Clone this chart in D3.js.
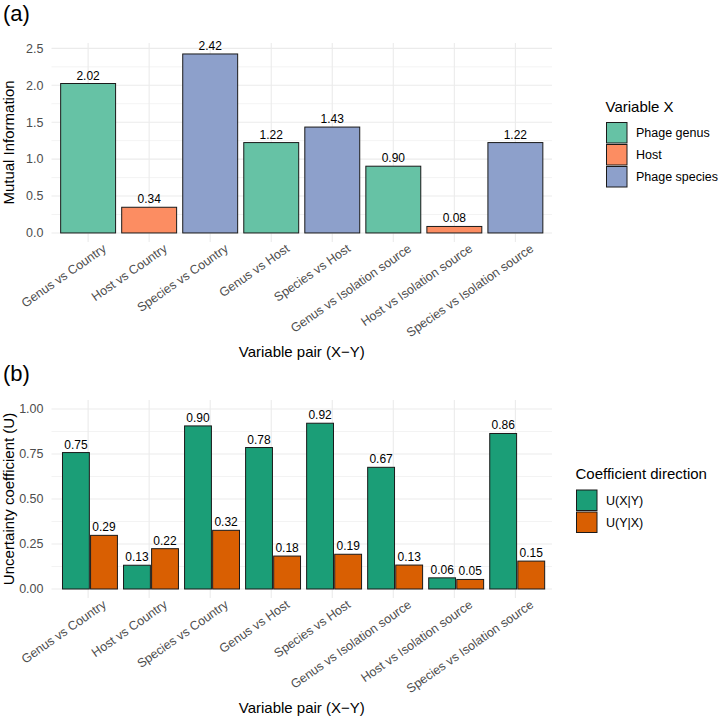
<!DOCTYPE html>
<html>
<head>
<meta charset="utf-8">
<script src="https://cdn.jsdelivr.net/npm/d3@7"></script>
<style>
  html, body { margin: 0; padding: 0; background: #fff; }
  svg { display: block; font-family: "Liberation Sans", Arial, Helvetica, sans-serif; }
</style>
</head>
<body>
<svg id="chart" width="721" height="716"></svg>
<script>
// ---------------- data ----------------
const pairs = ["Genus vs Country", "Host vs Country", "Species vs Country", "Genus vs Host",
               "Species vs Host", "Genus vs Isolation source", "Host vs Isolation source", "Species vs Isolation source"];
const miValues = [2.024, 0.348, 2.424, 1.224, 1.434, 0.904, 0.088, 1.224];
const miVariableX = ["Phage genus", "Host", "Phage species", "Phage genus", "Phage species", "Phage genus", "Host", "Phage species"];
const variableXLevels = ["Phage genus", "Host", "Phage species"];
const variableXColors = ["#66C2A5", "#FC8D62", "#8DA0CB"];
const uXgivenY = [0.758, 0.132, 0.906, 0.786, 0.921, 0.676, 0.062, 0.864];
const uYgivenX = [0.298, 0.224, 0.326, 0.183, 0.193, 0.133, 0.053, 0.155];
const directionLevels = ["U(X|Y)", "U(Y|X)"];
const directionColors = ["#1B9E77", "#D95F02"];
const miTicks = [0, 0.5, 1.0, 1.5, 2.0, 2.5];
const miMinor = [0.25, 0.75, 1.25, 1.75, 2.25];
const uTicks = [0, 0.25, 0.5, 0.75, 1.0];
const uMinor = [0.125, 0.375, 0.625, 0.875];

// ---------------- layout ----------------
const svg = d3.select("#chart");
const panelL = 51.5, panelR = 552;
const pA = { top: 43, bottom: 242 };
const pB = { top: 400, bottom: 598 };
const gridCol = "#EBEBEB";
const tickCol = "#4D4D4D";
const truncFmt = v => (Math.floor(v * 100 + 1e-9) / 100).toFixed(2);

const x = d3.scalePoint().domain(pairs).range([panelL, panelR]).padding(0.6);
const step = x.step();

const yA = d3.scaleLinear().domain([-0.1225, 2.5725]).range([pA.bottom, pA.top]);
const yB = d3.scaleLinear().domain([-0.05, 1.05]).range([pB.bottom, pB.top]);

const colA = d3.scaleOrdinal().domain(variableXLevels).range(variableXColors);
const colB = d3.scaleOrdinal().domain(directionLevels).range(directionColors);

function drawPanel(p, y, major, minor, fmt) {
  const g = svg.append("g");
  g.selectAll(".mn").data(minor).enter().append("line")
    .attr("x1", panelL).attr("x2", panelR)
    .attr("y1", d => y(d)).attr("y2", d => y(d))
    .attr("stroke", gridCol).attr("stroke-width", 0.6);
  g.selectAll(".mj").data(major).enter().append("line")
    .attr("x1", panelL).attr("x2", panelR)
    .attr("y1", d => y(d)).attr("y2", d => y(d))
    .attr("stroke", gridCol).attr("stroke-width", 1.1);
  g.selectAll(".vx").data(pairs).enter().append("line")
    .attr("x1", d => x(d)).attr("x2", d => x(d))
    .attr("y1", p.top).attr("y2", p.bottom)
    .attr("stroke", gridCol).attr("stroke-width", 1.1);
  g.selectAll(".yt").data(major).enter().append("text")
    .attr("x", 43.5).attr("y", d => y(d)).attr("dy", "0.35em")
    .attr("text-anchor", "end").attr("font-size", 12.5).attr("fill", tickCol)
    .text(fmt);
  g.selectAll(".xt").data(pairs).enter().append("text")
    .attr("transform", d => `translate(${x(d) + 19},${p.bottom + 8.5}) rotate(-35)`)
    .attr("text-anchor", "end").attr("font-size", 12.5).attr("fill", tickCol)
    .text(d => d);
  g.append("text")
    .attr("x", (panelL + panelR) / 2).attr("y", p.bottom + 115)
    .attr("text-anchor", "middle").attr("font-size", 15).attr("fill", "#000")
    .text("Variable pair (X\u2212Y)");
  return g;
}

// ---------------- panel (a) ----------------
const gA = drawPanel(pA, yA, miTicks, miMinor, d3.format(".1f"));
const bwA = step * 0.9;
gA.selectAll(".bar").data(pairs).enter().append("rect")
  .attr("x", d => x(d) - bwA / 2).attr("width", bwA)
  .attr("y", (d, i) => yA(miValues[i])).attr("height", (d, i) => yA(0) - yA(miValues[i]))
  .attr("fill", (d, i) => colA(miVariableX[i]))
  .attr("stroke", "#1a1a1a").attr("stroke-width", 1);
gA.selectAll(".lab").data(pairs).enter().append("text")
  .attr("x", d => x(d)).attr("y", (d, i) => yA(miValues[i]) - 4)
  .attr("text-anchor", "middle").attr("font-size", 12).attr("fill", "#000")
  .text((d, i) => truncFmt(miValues[i]));
gA.append("text")
  .attr("transform", `translate(13.5,${(pA.top + pA.bottom) / 2}) rotate(-90)`)
  .attr("text-anchor", "middle").attr("font-size", 15).attr("fill", "#000")
  .text("Mutual Information");
svg.append("text").attr("x", 3).attr("y", 20.5).attr("font-size", 22).attr("fill", "#000").text("(a)");

// legend (a)
const legA = svg.append("g");
legA.append("text").attr("x", 605.5).attr("y", 111.5).attr("font-size", 15).attr("fill", "#000").text("Variable X");
variableXLevels.forEach((lv, i) => {
  legA.append("rect").attr("x", 606.5).attr("y", 122.5 + i * 22).attr("width", 20.5).attr("height", 20.5)
    .attr("fill", colA(lv)).attr("stroke", "#1a1a1a").attr("stroke-width", 1);
  legA.append("text").attr("x", 636).attr("y", 122.5 + i * 22 + 10.5).attr("dy", "0.35em")
    .attr("font-size", 12.5).attr("fill", "#000").text(lv);
});

// ---------------- panel (b) ----------------
const gB = drawPanel(pB, yB, uTicks, uMinor, d3.format(".2f"));
const bwB = step * 0.44, gap = step * 0.02, shift = step * 0.03;
const seriesB = [uXgivenY, uYgivenX];
seriesB.forEach((vals, s) => {
  const off = s === 0 ? -bwB - gap / 2 : gap / 2;
  gB.selectAll(".b" + s).data(pairs).enter().append("rect")
    .attr("x", d => x(d) + off + shift).attr("width", bwB)
    .attr("y", (d, i) => yB(vals[i])).attr("height", (d, i) => yB(0) - yB(vals[i]))
    .attr("fill", colB(directionLevels[s]))
    .attr("stroke", "#1a1a1a").attr("stroke-width", 1);
  gB.selectAll(".l" + s).data(pairs).enter().append("text")
    .attr("x", d => x(d) + off + shift + bwB / 2).attr("y", (d, i) => yB(vals[i]) - 4)
    .attr("text-anchor", "middle").attr("font-size", 12).attr("fill", "#000")
    .text((d, i) => truncFmt(vals[i]));
});
gB.append("text")
  .attr("transform", `translate(13.5,${(pB.top + pB.bottom) / 2}) rotate(-90)`)
  .attr("text-anchor", "middle").attr("font-size", 15).attr("fill", "#000")
  .text("Uncertainty coefficient (U)");
svg.append("text").attr("x", 3).attr("y", 380.5).attr("font-size", 22).attr("fill", "#000").text("(b)");

// legend (b)
const legB = svg.append("g");
legB.append("text").attr("x", 575.5).attr("y", 479).attr("font-size", 15).attr("fill", "#000").text("Coefficient direction");
directionLevels.forEach((lv, i) => {
  legB.append("rect").attr("x", 576.5).attr("y", 490 + i * 22).attr("width", 20.5).attr("height", 20.5)
    .attr("fill", colB(lv)).attr("stroke", "#1a1a1a").attr("stroke-width", 1);
  legB.append("text").attr("x", 606).attr("y", 490 + i * 22 + 10.5).attr("dy", "0.35em")
    .attr("font-size", 12.5).attr("fill", "#000").text(lv);
});
</script>
</body>
</html>
